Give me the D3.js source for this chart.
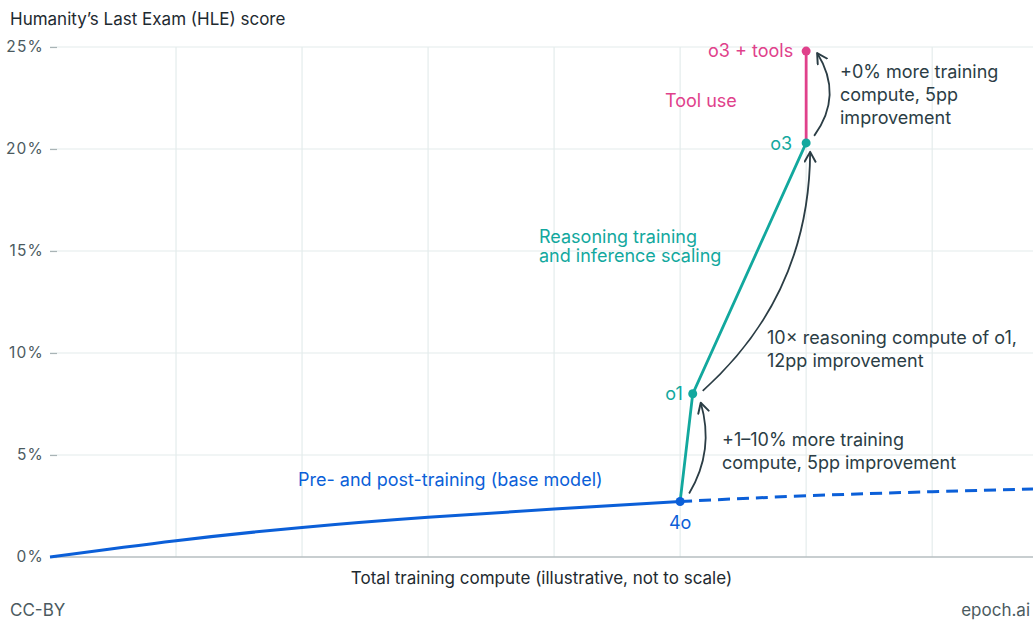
<!DOCTYPE html>
<html>
<head>
<meta charset="utf-8">
<script src="https://cdn.jsdelivr.net/npm/d3@7"></script>
<style>
  body { margin: 0; background: #fff; }
  svg text { font-family: Inter, "Noto Sans", sans-serif; }
</style>
</head>
<body>
<div id="chart"></div>
<script>
// base model curve (illustrative compute units, HLE %)
const baseX = [0, 1, 2, 3, 4, 5];
const baseY = [0, 0.8, 1.45, 1.95, 2.35, 2.72];
// dashed extrapolation of the base curve
const extX = [5, 6, 7, 7.8];
const extY = [2.72, 3.0, 3.2, 3.33];
// reasoning models
const reasonNames = ["4o", "o1", "o3"];
const reasonX = [5, 5.1, 6];
const reasonY = [2.72, 8.0, 20.3];
// tool use
const toolNames = ["o3", "o3 + tools"];
const toolX = [6, 6];
const toolY = [20.3, 24.8];
const yTicks = [0, 5, 10, 15, 20, 25];
const xTicks = [1, 2, 3, 4, 5, 6, 7];

const W = 1033, H = 623;
const margin = { top: 47, right: 0, bottom: 66, left: 50 };
const width = W - margin.left - margin.right,
	height = H - margin.top - margin.bottom;

const blue = "#0b5fd8", teal = "#12a89e", pink = "#e0418b", dark = "#2b3d45", grid = "#e4ecec";

const svg = d3.select("#chart")
	.append("svg")
	.attr("width", W)
	.attr("height", H);

const x = d3.scaleLinear().domain([0, 7.8]).range([0, width]);
const y = d3.scaleLinear().domain([0, 25]).range([height, 0]);

const g = svg.append("g")
	.attr("transform", `translate(${margin.left}, ${margin.top})`);

// grid
g.append("g").selectAll("line")
	.data(xTicks).enter().append("line")
	.attr("x1", d => x(d)).attr("x2", d => x(d))
	.attr("y1", 0).attr("y2", height)
	.attr("stroke", grid).attr("stroke-width", 1.2);
g.append("g").selectAll("line")
	.data(yTicks.filter(d => d > 0)).enter().append("line")
	.attr("x1", 0).attr("x2", width)
	.attr("y1", d => y(d)).attr("y2", d => y(d))
	.attr("stroke", grid).attr("stroke-width", 1.2);

// y axis
const yAxis = g.append("g")
	.call(d3.axisLeft(y).tickValues(yTicks).tickFormat(d => d + "%").tickSize(-7).tickPadding(6));
yAxis.select(".domain").remove();
yAxis.selectAll("line").attr("stroke", "#a9b4b6").attr("stroke-width", 1.2);
yAxis.selectAll("text")
	.attr("font-size", 15.5).attr("fill", "#4b5a60")
	.attr("letter-spacing", 1.2)
	.style("font-family", "Inter, sans-serif");

// baseline
g.append("line")
	.attr("x1", 0).attr("x2", width)
	.attr("y1", y(0)).attr("y2", y(0))
	.attr("stroke", "#b6bec0").attr("stroke-width", 1.5);

// lines
const line = d3.line().x(d => x(d[0])).y(d => y(d[1]));
const curved = d3.line().x(d => x(d[0])).y(d => y(d[1])).curve(d3.curveNatural);

g.append("path")
	.datum(extX.map((v, i) => [v, extY[i]]))
	.attr("d", curved)
	.attr("fill", "none").attr("stroke", blue).attr("stroke-width", 3)
	.attr("stroke-dasharray", "12,7");
g.append("path")
	.datum(baseX.map((v, i) => [v, baseY[i]]))
	.attr("d", curved)
	.attr("fill", "none").attr("stroke", blue).attr("stroke-width", 3);
g.append("path")
	.datum(reasonX.map((v, i) => [v, reasonY[i]]))
	.attr("d", line)
	.attr("fill", "none").attr("stroke", teal).attr("stroke-width", 2.8);
g.append("path")
	.datum(toolX.map((v, i) => [v, toolY[i]]))
	.attr("d", line)
	.attr("fill", "none").attr("stroke", pink).attr("stroke-width", 2.8);

// points
const pts = [
	{ x: reasonX[0], y: reasonY[0], c: blue },
	{ x: reasonX[1], y: reasonY[1], c: teal },
	{ x: reasonX[2], y: reasonY[2], c: teal },
	{ x: toolX[1], y: toolY[1], c: pink }
];
g.selectAll(".pt").data(pts).enter().append("circle")
	.attr("cx", d => x(d.x)).attr("cy", d => y(d.y)).attr("r", 4.5)
	.attr("fill", d => d.c);

// point labels
function label(txt, px, py, dx, dy, color, anchor) {
	g.append("text")
		.attr("x", x(px) + dx).attr("y", y(py) + dy)
		.attr("text-anchor", anchor)
		.attr("font-size", 18).attr("fill", color)
		.text(txt);
}
label(reasonNames[0], reasonX[0], reasonY[0], 0, 27, blue, "middle");
label(reasonNames[1], reasonX[1], reasonY[1], -10, 6, teal, "end");
label(toolNames[0], toolX[0], toolY[0], -14, 7, teal, "end");
label(toolNames[1], toolX[1], toolY[1], -13, 6, pink, "end");

// series labels
function block(lines, px, py, color, lh) {
	const t = g.append("text").attr("font-size", 18).attr("fill", color);
	lines.forEach((l, i) => {
		t.append("tspan").attr("x", px).attr("y", py + i * (lh || 23)).text(l);
	});
}
block(["Pre- and post-training (base model)"], 248, 439, blue);
block(["Reasoning training", "and inference scaling"], 489, 196, teal, 19);
block(["Tool use"], 615, 60, pink);

// annotations
block(["+0% more training", "compute, 5pp", "improvement"], 790, 31, dark);
block(["10× reasoning compute of o1,", "12pp improvement"], 717, 297, dark);
block(["+1–10% more training", "compute, 5pp improvement"], 672, 399, dark);

// arrows
const defs = svg.append("defs");
defs.append("marker")
	.attr("id", "arr").attr("viewBox", "0 0 12 12")
	.attr("refX", 10).attr("refY", 6)
	.attr("markerWidth", 13).attr("markerHeight", 13)
	.attr("markerUnits", "userSpaceOnUse")
	.attr("orient", "auto")
	.append("path")
	.attr("d", "M1,1 L10,6 L1,11")
	.attr("fill", "none").attr("stroke", dark).attr("stroke-width", 1.8)
	.attr("stroke-linecap", "round").attr("stroke-linejoin", "round");

function arrow(x0, y0, x1, y1, bend) {
	const mx = (x0 + x1) / 2, my = (y0 + y1) / 2;
	const dx = x1 - x0, dy = y1 - y0, len = Math.hypot(dx, dy);
	const cx = mx + (-dy / len) * bend, cy = my + (dx / len) * bend;
	g.append("path")
		.attr("d", `M${x0},${y0} Q${cx},${cy} ${x1},${y1}`)
		.attr("fill", "none").attr("stroke", dark).attr("stroke-width", 1.8)
		.attr("marker-end", "url(#arr)");
}
arrow(x(reasonX[0]) + 9, y(reasonY[0]) - 8, x(reasonX[1]) + 8, y(reasonY[1]) + 9, 20);
arrow(x(reasonX[1]) + 10, y(reasonY[1]) - 3, x(reasonX[2]) + 4, y(reasonY[2]) + 9, 58);
arrow(x(toolX[0]) + 8, y(toolY[0]) - 7, x(toolX[1]) + 11, y(toolY[1]) + 2, 28);

// axis title and footer
svg.append("text")
	.attr("x", 10).attr("y", 25)
	.attr("font-size", 17).attr("fill", "#1e2a30")
	.text("Humanity’s Last Exam (HLE) score");
svg.append("text")
	.attr("x", margin.left + width / 2).attr("y", 584)
	.attr("text-anchor", "middle")
	.attr("font-size", 17).attr("fill", "#1e2a30")
	.text("Total training compute (illustrative, not to scale)");
svg.append("text")
	.attr("x", 10).attr("y", 616)
	.attr("font-size", 17).attr("fill", "#4b5a60")
	.text("CC-BY");
svg.append("text")
	.attr("x", 1030).attr("y", 616)
	.attr("text-anchor", "end")
	.attr("font-size", 17).attr("fill", "#4b5a60")
	.text("epoch.ai");
</script>
</body>
</html>
